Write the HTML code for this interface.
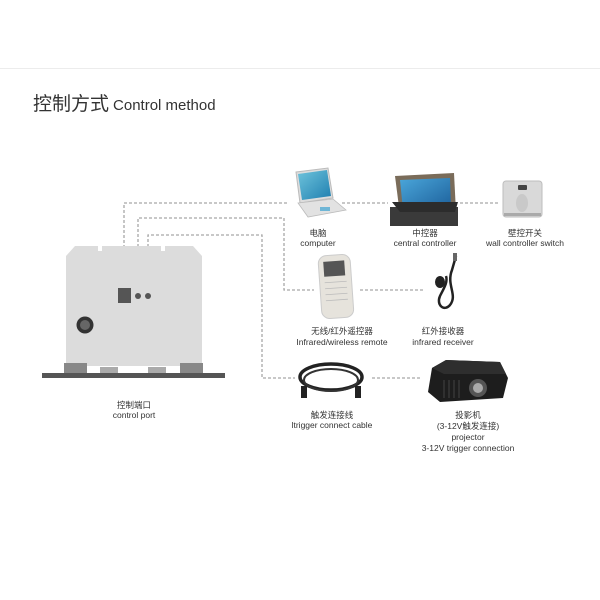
<!DOCTYPE html>
<html><head><meta charset="utf-8"><style>
html,body{margin:0;padding:0;background:#fff;width:600px;height:600px;overflow:hidden}
svg{display:block}
text{font-family:"Liberation Sans","Noto Sans CJK SC",sans-serif;fill:#333;font-size:8.5px;text-anchor:middle}
</style></head><body>
<svg width="600" height="600" viewBox="0 0 600 600" xmlns="http://www.w3.org/2000/svg">
<defs>
<linearGradient id="scr" x1="0" y1="0" x2="1" y2="1"><stop offset="0" stop-color="#6fc4dc"/><stop offset="1" stop-color="#1f7fb0"/></linearGradient>
<linearGradient id="scr2" x1="0" y1="0" x2="1" y2="1"><stop offset="0" stop-color="#4aa6da"/><stop offset="1" stop-color="#1c5f9a"/></linearGradient>
</defs>
<line x1="0" y1="68.5" x2="600" y2="68.5" stroke="#ececec" stroke-width="1"/>
<text x="33" y="110" style="font-size:19px;text-anchor:start;fill:#333">控制方式<tspan style="font-size:15px" dx="4">Control method</tspan></text>

<!-- dashed connectors -->
<g fill="none" stroke="#a8a8a8" stroke-width="1.3" stroke-dasharray="3,2">
<path d="M124,288 V203 H288"/>
<path d="M138,292 V218 H284 V290 H314"/>
<path d="M148,292 V235 H262 V378 H295"/>
<path d="M342,203 H388"/>
<path d="M460,203 H499"/>
<path d="M360,290 H425"/>
<path d="M372,378 H420"/>
</g>

<!-- control unit -->
<path d="M66,256 L75,246 H98 V251 H102 V246 H161 V251 H165 V246 H193 L202,256 V366 H66 Z" fill="#dcdcdc"/>
<rect x="118" y="288" width="13" height="15" fill="#555"/>
<circle cx="138" cy="296" r="3" fill="#555"/>
<circle cx="148" cy="296" r="3" fill="#555"/>
<circle cx="85" cy="325" r="8.5" fill="#333"/>
<circle cx="85" cy="325" r="5" fill="#666"/>
<rect x="64" y="363" width="23" height="11" fill="#888"/>
<rect x="180" y="363" width="23" height="11" fill="#888"/>
<rect x="100" y="367" width="18" height="6" fill="#aaa"/>
<rect x="148" y="367" width="18" height="6" fill="#aaa"/>
<rect x="42" y="373" width="183" height="5" fill="#555"/>

<!-- computer -->
<path d="M296,172 L328,168 L333,198 L300,203 Z" fill="#ddd" stroke="#bbb" stroke-width="1"/>
<path d="M298,174 L327,170 L331,196 L302,200 Z" fill="url(#scr)"/>
<path d="M298,203 L333,199 L346,210 L308,217 Z" fill="#e2e2e2" stroke="#bbb" stroke-width="0.8"/>
<rect x="320" y="207" width="10" height="4" fill="#6fb6d6"/>

<!-- central controller -->
<path d="M395,176 L454,173 L456,212 L400,215 Z" fill="#7a6c5a"/>
<path d="M400,180 L450,178 L451,208 L403,210 Z" fill="url(#scr2)"/>
<path d="M390,207 H458 V226 H390 Z" fill="#3a3a3a"/>
<path d="M392,202 L400,212 H455 L458,202 Z" fill="#2c2c2c"/>

<!-- wall switch -->
<rect x="503" y="181" width="39" height="36" rx="3" fill="#d9d9d9" stroke="#bdbdbd"/>
<rect x="518" y="185" width="9" height="5" rx="1" fill="#444"/>
<ellipse cx="522" cy="203" rx="6" ry="9" fill="#c9c9c9"/>
<rect x="504" y="213" width="37" height="3" fill="#aaa"/>

<!-- remote -->
<g transform="rotate(-4 336 287)">
<rect x="320" y="255" width="32" height="63" rx="8" fill="#e6e3dc" stroke="#ccc"/>
<rect x="325" y="261" width="21" height="15" fill="#555"/>
<g stroke="#bbb" stroke-width="0.8"><line x1="325" y1="282" x2="347" y2="282"/><line x1="325" y1="288" x2="347" y2="288"/><line x1="325" y1="294" x2="347" y2="294"/><line x1="325" y1="300" x2="347" y2="300"/></g>
</g>

<!-- IR receiver -->
<path d="M456,256 L452,270 C446,285 458,295 450,305 C444,312 436,305 440,296 C444,288 448,282 446,276" fill="none" stroke="#222" stroke-width="2.5"/>
<ellipse cx="440" cy="282" rx="5" ry="6" fill="#222"/>
<rect x="453" y="253" width="4" height="8" fill="#666"/>

<!-- cable -->
<ellipse cx="331" cy="377" rx="31" ry="13" fill="none" stroke="#222" stroke-width="3.5"/>
<ellipse cx="331" cy="380" rx="27" ry="11" fill="none" stroke="#333" stroke-width="2"/>
<rect x="301" y="386" width="6" height="12" fill="#222"/>
<rect x="355" y="386" width="6" height="12" fill="#222"/>

<!-- projector -->
<path d="M432,368 L446,360 L500,362 L508,378 L503,398 L440,402 L428,392 Z" fill="#1d1d1d"/>
<path d="M432,368 L446,360 L500,362 L506,374 L444,374 Z" fill="#2e2e2e"/>
<circle cx="478" cy="388" r="9" fill="#555"/><circle cx="478" cy="388" r="5" fill="#aaa"/>
<g stroke="#444" stroke-width="1"><line x1="444" y1="380" x2="444" y2="398"/><line x1="449" y1="380" x2="449" y2="398"/><line x1="454" y1="380" x2="454" y2="398"/><line x1="459" y1="380" x2="459" y2="398"/></g>

<!-- labels -->
<text x="318" y="236">电脑</text><text x="318" y="246">computer</text>
<text x="425" y="236">中控器</text><text x="425" y="246">central controller</text>
<text x="525" y="236">壁控开关</text><text x="525" y="246">wall controller switch</text>
<text x="342" y="334">无线/红外遥控器</text><text x="342" y="345">Infrared/wireless remote</text>
<text x="443" y="334">红外接收器</text><text x="443" y="345">infrared receiver</text>
<text x="134" y="408">控制端口</text><text x="134" y="418">control port</text>
<text x="332" y="418">触发连接线</text><text x="332" y="428">ltrigger connect cable</text>
<text x="468" y="418">投影机</text><text x="468" y="429">(3-12V触发连接)</text><text x="468" y="440">projector</text><text x="468" y="451">3-12V trigger connection</text>
</svg>
</body></html>
